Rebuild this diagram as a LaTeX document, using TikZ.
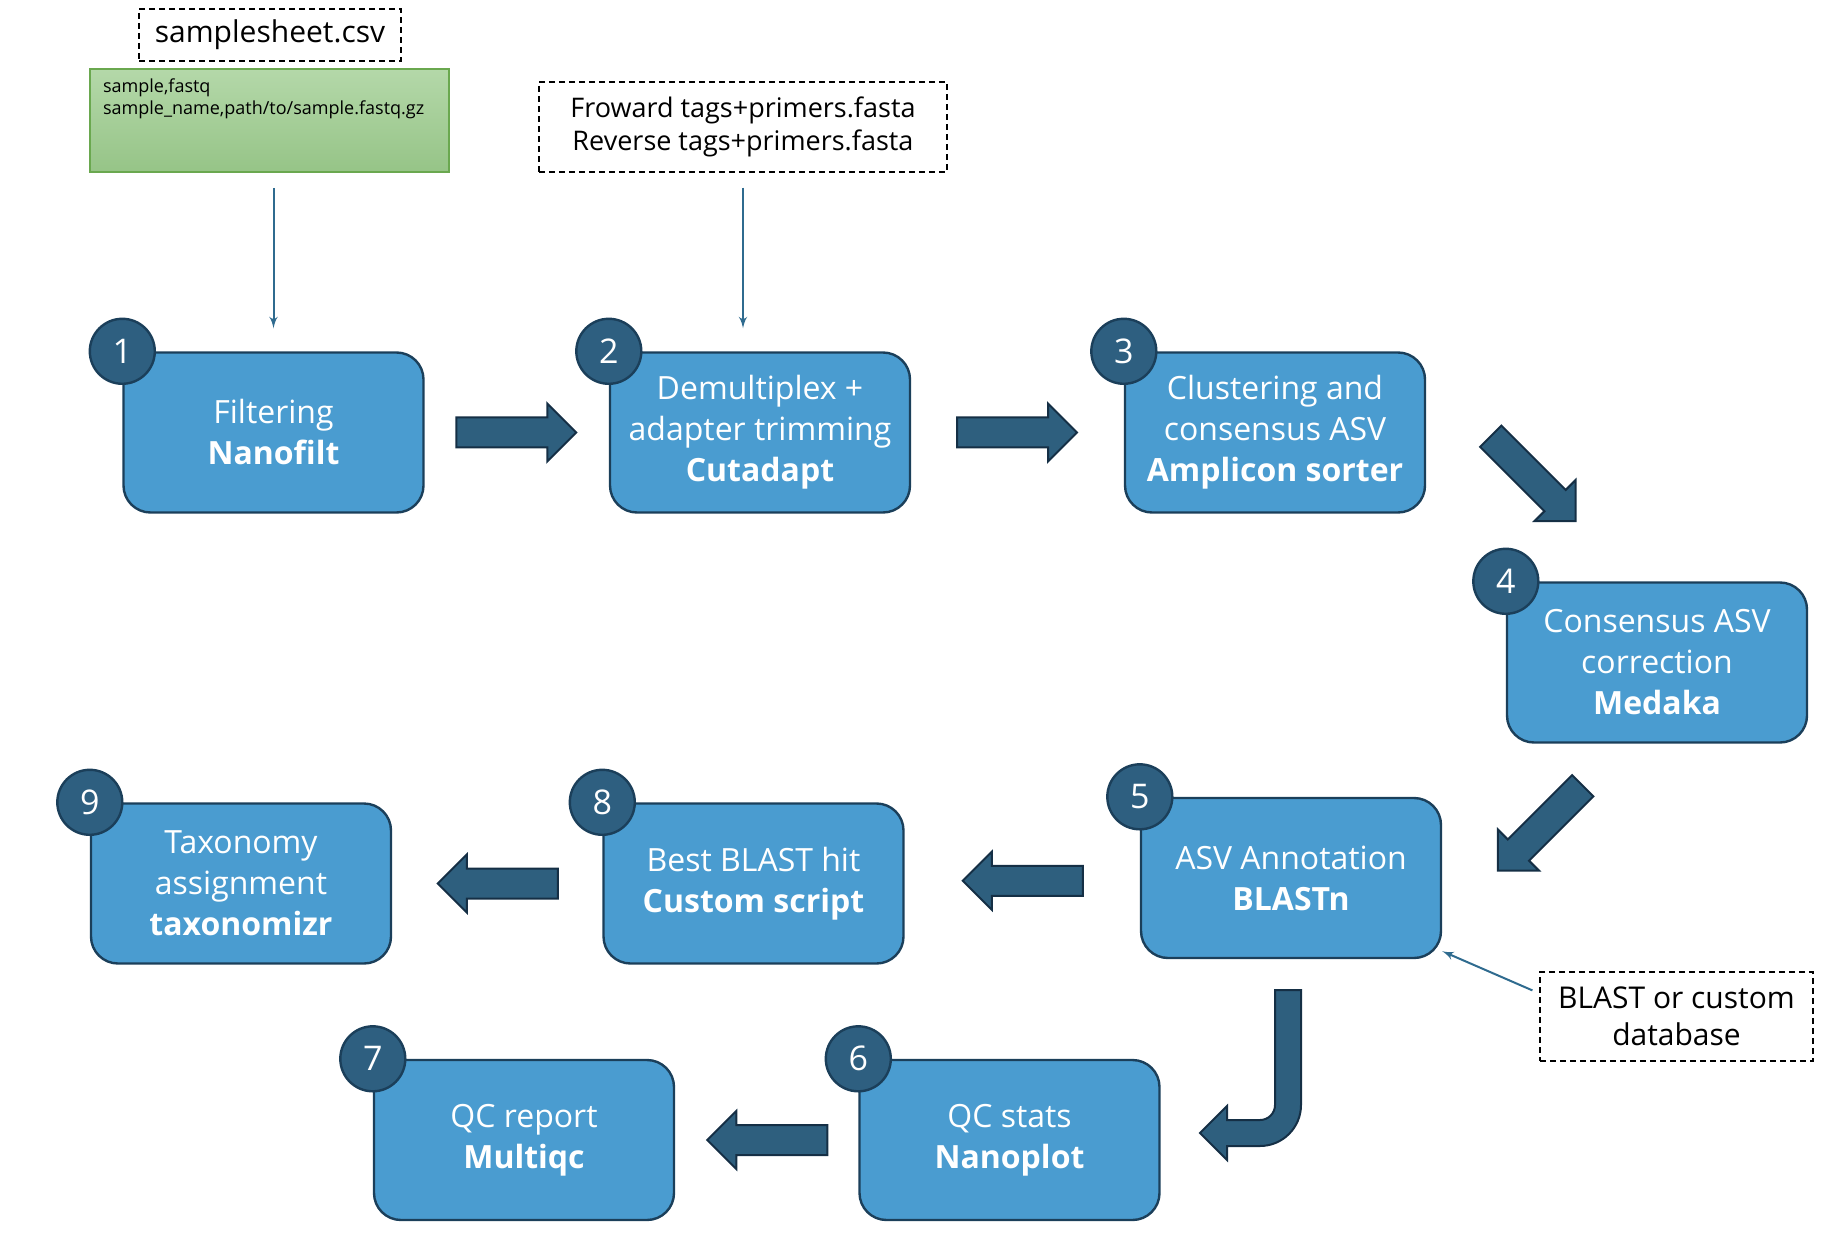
\documentclass[tikz,border=0pt]{standalone}
\usepackage{fontspec}
\setmainfont{Open Sans}
\usetikzlibrary{positioning,arrows,calc,shapes}
\definecolor{stagefill}{HTML}{4A9CD0}
\definecolor{stageline}{HTML}{1B3F5A}
\definecolor{badgefill}{HTML}{2E5F80}
\definecolor{arrowfill}{HTML}{2E5F7E}
\definecolor{arrowline}{HTML}{152F45}
\definecolor{thinline}{HTML}{2F6B8F}
\definecolor{csvtop}{HTML}{B4D8A9}
\definecolor{csvbottom}{HTML}{96C487}
\definecolor{csvline}{HTML}{6AA84F}
\tikzset{
    x=0.5pt,
    y=-0.5pt,
    stage/.style = {
        draw=stageline,
        fill=stagefill,
        shape=rectangle,
        rounded corners=13.5pt,
        line width=1.2pt,
        minimum width=150pt,
        minimum height=80pt,
        text=white,
        align=center,
        font=\fontsize{16}{20.5}\selectfont
    },
    badge/.style = {
        draw=stageline,
        fill=badgefill,
        shape=circle,
        line width=1.2pt,
        minimum size=32.5pt,
        inner sep=0pt,
        text=white,
        font=\fontsize{17}{19}\selectfont
    },
    fatarrow/.style = {
        draw=arrowline,
        fill=arrowfill,
        shape=single arrow,
        line width=1pt,
        minimum height=60pt,
        inner xsep=0pt,
        inner ysep=7pt,
        single arrow head extend=7pt,
        single arrow tip angle=90,
        rotate=#1,
        xshift=-4pt
    },
    fatarrow/.default=0,
    inputfile/.style = {
        draw,
        shape=rectangle,
        dash pattern=on 3pt off 2pt,
        line width=0.6pt,
        align=center,
        inner sep=0pt
    },
    sheetbox/.style = {
        draw=csvline,
        shape=rectangle,
        top color=csvtop,
        bottom color=csvbottom,
        line width=1pt,
        align=left,
        inner xsep=6.5pt,
        inner ysep=3pt,
        text width=166.5pt,
        text height=9pt,
        text depth=36.5pt,
        font=\fontsize{9}{11}\selectfont
    },
    inputlink/.style = {
        draw=thinline,
        line width=1pt,
        ->
    },
    >=latex',
}
\begin{document}
\begin{tikzpicture}
\useasboundingbox (0,0) rectangle (1834,1240);

\node[inputfile, minimum width=131pt, minimum height=26pt, font=\fontsize{15}{18}\selectfont] (csvname) at (270,35) {samplesheet.csv};
\node[sheetbox] (csv) at (269.5,120.5) {sample,fastq\\sample\_name,path/to/sample.fastq.gz};
\node[inputfile, minimum width=204pt, minimum height=45pt, font=\fontsize{13.5}{16.5}\selectfont] (primers) at (743,127) {Froward tags+primers.fasta\\Reverse tags+primers.fasta};
\node[inputfile, minimum width=136.5pt, minimum height=44.5pt, font=\fontsize{15}{18.5}\selectfont] (db) at (1676.5,1016.5) {BLAST or custom\\database};

\node[stage] (stage1) at (273.5,432.5) {Filtering\\\textbf{Nanofilt}};
\node[stage] (stage2) at (760,432.5) {Demultiplex +\\adapter trimming\\\textbf{Cutadapt}};
\node[stage] (stage3) at (1275,432.5) {Clustering and\\consensus ASV\\\textbf{Amplicon sorter}};
\node[stage] (stage4) at (1657,662.5) {Consensus ASV\\correction\\\textbf{Medaka}};
\node[stage] (stage5) at (1291,878) {ASV Annotation\\\textbf{BLASTn}};
\node[stage] (stage6) at (1009.5,1140) {QC stats\\\textbf{Nanoplot}};
\node[stage] (stage7) at (524,1140) {QC report\\\textbf{Multiqc}};
\node[stage] (stage8) at (753.5,883.5) {Best BLAST hit\\\textbf{Custom script}};
\node[stage] (stage9) at (241,883.5) {Taxonomy\\assignment\\\textbf{taxonomizr}};

\foreach \i in {1,...,9}
    \node[badge] (badge\i) at (stage\i.north west) {\i};

\node[fatarrow] (flow12) at ($(stage1.east)!0.5!(stage2.west)$) {};
\node[fatarrow] (flow23) at ($(stage2.east)!0.5!(stage3.west)$) {};
\node[fatarrow=-45] (flow34) at (1533.5,479) {};
\node[fatarrow=225] (flow45) at (1540,828.5) {};
\node[fatarrow=180] (flow58) at ($(stage8.east)!0.5!(stage5.west)$) {};
\node[fatarrow=180] (flow89) at ($(stage9.east)!0.5!(stage8.west)$) {};
\node[fatarrow=180] (flow67) at ($(stage7.east)!0.5!(stage6.west)$) {};
\path[draw=arrowline, fill=arrowfill, line width=1pt] (1275,990) -- (1301,990) -- (1301,1105) .. controls (1301,1127.6) and (1282.6,1146) .. (1260,1146) -- (1227,1146) -- (1227,1160) -- (1200,1133) -- (1227,1106) -- (1227,1120) -- (1260,1120) .. controls (1268.3,1120) and (1275,1113.3) .. (1275,1105) -- cycle;

\path[inputlink, shorten <=7.5pt, shorten >=11.5pt] (stage1.north |- csv.south) -- (stage1.north);
\path[inputlink, shorten <=7.5pt, shorten >=11.5pt] (primers.south) -- (primers.south |- stage2.north);
\path[inputlink] ([xshift=-3.5pt, yshift=-9.5pt]db.north west) -- ([yshift=4pt]stage5.south east);
\end{tikzpicture}
\end{document}
